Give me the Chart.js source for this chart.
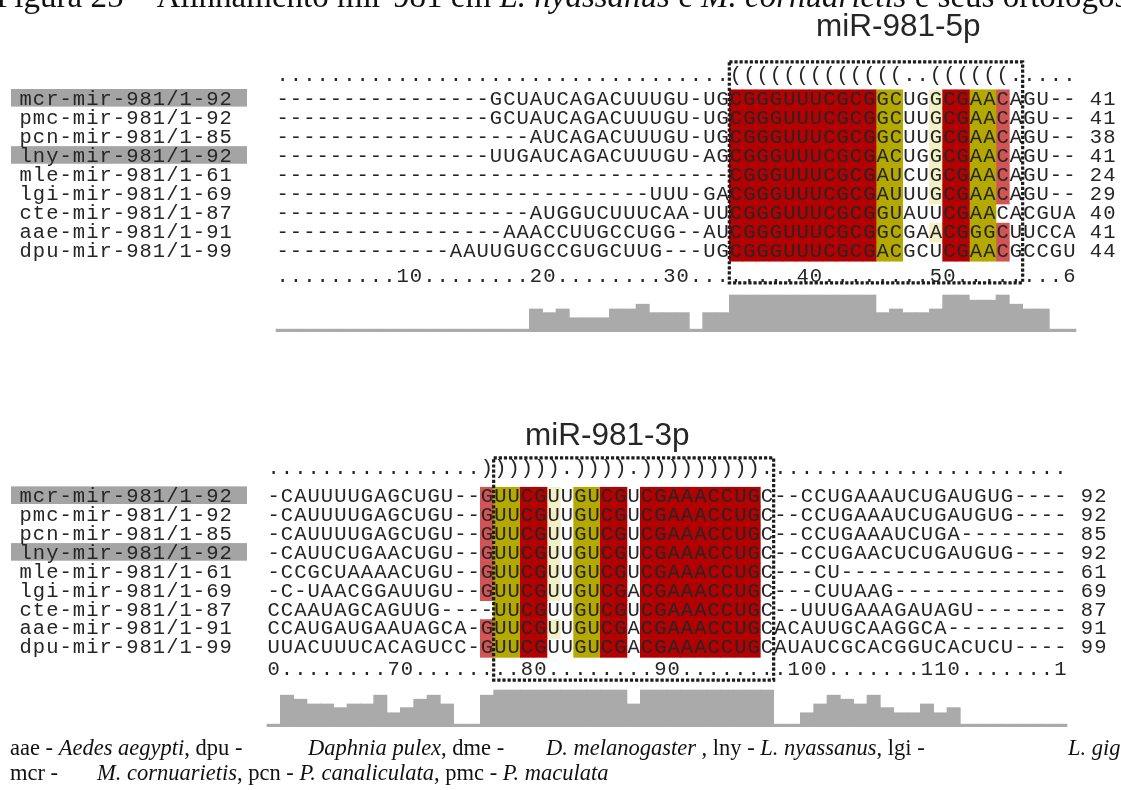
<!DOCTYPE html>
<html>
<head>
<meta charset="utf-8">
<script src="https://cdn.jsdelivr.net/npm/chart.js@4.4.1/dist/chart.umd.min.js"></script>
<style>
  html, body { margin: 0; padding: 0; background: #fff; }
  #wrap { position: relative; width: 1121px; height: 790px; }
</style>
</head>
<body>
<div id="wrap"><canvas id="alignChart"></canvas></div>
<script>
// ---- data ----
const sequenceNames = [
  'mcr-mir-981/1-92', 'pmc-mir-981/1-92', 'pcn-mir-981/1-85',
  'lny-mir-981/1-92', 'mle-mir-981/1-61', 'lgi-mir-981/1-69',
  'cte-mir-981/1-87', 'aae-mir-981/1-91', 'dpu-mir-981/1-99'
];
const highlightedNames = ['mcr-mir-981/1-92', 'lny-mir-981/1-92'];

// alignment columns 1-60 (5p arm)
const seq5p = [
  '-'.repeat(16) + 'GCUAUCAGACUUUGU-UGCGGGUUUCGCGGCUGGCGAACAGU--',
  '-'.repeat(16) + 'GCUAUCAGACUUUGU-UGCGGGUUUCGCGGCUUGCGAACAGU--',
  '-'.repeat(19) + 'AUCAGACUUUGU-UGCGGGUUUCGCGGCUUGCGAACAGU--',
  '-'.repeat(16) + 'UUGAUCAGACUUUGU-AGCGGGUUUCGCGACUGGCGAACAGU--',
  '-'.repeat(34) + 'CGGGUUUCGCGAUCUGCGAACAGU--',
  '-'.repeat(28) + 'UUU-GACGGGUUUCGCGAUUUGCGAACAGU--',
  '-'.repeat(19) + 'AUGGUCUUUCAA-UUCGGGUUUCGCGGUAUUCGAACACGUA',
  '-'.repeat(17) + 'AAACCUUGCCUGG--AUCGGGUUUCGCGGCGAACGGGCUUCCA',
  '-'.repeat(13) + 'AAUUGUGCCGUGCUUG---UGCGGGUUUCGCGACGCUCGAACGCCGU'
];
const end5p = [41, 41, 38, 41, 24, 29, 40, 41, 44];

// alignment columns 61-120 (3p arm)
const seq3p = [
  '-CAUUUUGAGCUGU--GUUCGUUGUCGUCGAAACCUGC--CCUGAAAUCUGAUGUG----',
  '-CAUUUUGAGCUGU--GUUCGUUGUCGUCGAAACCUGC--CCUGAAAUCUGAUGUG----',
  '-CAUUUUGAGCUGU--GUUCGUUGUCGUCGAAACCUGC--CCUGAAAUCUGA--------',
  '-CAUUCUGAACUGU--GUUCGUUGUCGUCGAAACCUGC--CCUGAACUCUGAUGUG----',
  '-CCGCUAAAACUGU--GUUCGUUGUCGUCGAAACCUGC---CU-----------------',
  '-C-UAACGGAUUGU--GUUCGUUGUCGACGAAACCUGC---CUUAAG-------------',
  'CCAAUAGCAGUUG----UUCGUUGUCGUCGAAACCUGC--UUUGAAAGAUAGU-------',
  'CCAUGAUGAAUAGCA-GUUCGUUGUCGACGAAACCUGCACAUUGCAAGGCA---------',
  'UUACUUUCACAGUCC-GUUCGUUGUCGACGAAACCUGCAUAUCGCACGGUCACUCU----'
];
const end3p = [92, 92, 85, 92, 61, 69, 87, 91, 99];

// secondary structure (dot-bracket)
const struct5p = '.'.repeat(34) + '(((((((((((((..((((((.....';
const struct3p = '.'.repeat(16) + ')))))).)))).)))))))))' + '.'.repeat(23);

// residue shading: R dark red, O olive, L light red, B pale yellow
const shade5p = [
  '.'.repeat(34) + 'RRRRRRRRRRROO..BRROOL.....',
  '.'.repeat(34) + 'RRRRRRRRRRROO..BRROOL.....',
  '.'.repeat(34) + 'RRRRRRRRRRROO..BRROOL.....',
  '.'.repeat(34) + 'RRRRRRRRRRROO..BRROOL.....',
  '.'.repeat(34) + 'RRRRRRRRRRROO..BRROOL.....',
  '.'.repeat(34) + 'RRRRRRRRRRROO..BRROOL.....',
  '.'.repeat(34) + 'RRRRRRRRRRROO...RROO......',
  '.'.repeat(34) + 'RRRRRRRRRRROO..BRROOL.....',
  '.'.repeat(34) + 'RRRRRRRRRRROO...RROOL.....'
];
const shade3p = [
  '.'.repeat(16) + 'LOORRB.OORR.RRRRRRRRR' + '.'.repeat(23),
  '.'.repeat(16) + 'LOORRB.OORR.RRRRRRRRR' + '.'.repeat(23),
  '.'.repeat(16) + 'LOORRB.OORR.RRRRRRRRR' + '.'.repeat(23),
  '.'.repeat(16) + 'LOORRB.OORR.RRRRRRRRR' + '.'.repeat(23),
  '.'.repeat(16) + 'LOORRB.OORR.RRRRRRRRR' + '.'.repeat(23),
  '.'.repeat(16) + 'LOORRB.OORR.RRRRRRRRR' + '.'.repeat(23),
  '.'.repeat(16) + '.OORR..OORR.RRRRRRRRR' + '.'.repeat(23),
  '.'.repeat(16) + 'LOORRB.OORR.RRRRRRRRR' + '.'.repeat(23),
  '.'.repeat(16) + 'LOORR..OORR.RRRRRRRRR' + '.'.repeat(23)
];

// conservation histogram, bar height in % of full height
const cons5p = [
  7, 7, 7, 7, 7, 7, 7, 7, 7, 7,
  7, 7, 7, 7, 7, 7, 7, 7, 7, 62,
  52, 62, 38, 38, 38, 62, 62, 75, 52, 52,
  52, 7, 52, 52, 100, 100, 100, 100, 100, 100,
  100, 100, 100, 100, 100, 52, 62, 52, 52, 62,
  100, 100, 86, 86, 100, 75, 62, 62, 7, 7
];
const cons3p = [
  7, 86, 75, 62, 62, 52, 62, 62, 86, 38,
  52, 75, 86, 62, 7, 7, 86, 100, 100, 100,
  100, 100, 100, 100, 100, 100, 100, 62, 100, 100,
  100, 100, 100, 100, 100, 100, 100, 100, 7, 7,
  38, 62, 86, 75, 62, 86, 52, 38, 38, 62,
  38, 52, 7, 7, 7, 7, 7, 7, 7, 7
];

// ruler tick labels (alignment positions)
const rulerTicks = [10, 20, 30, 40, 50, 60, 70, 80, 90, 100, 110, 120];

// mature miRNA boxes (alignment columns, 0-based, inclusive)
const arm5p = [34, 55];
const arm3p = [77, 97];

// ---- layout ----
const W = 1121, H = 790;
const COL_W = 13.333;
const MONO = '20.5px "Liberation Mono", "DejaVu Sans Mono", monospace';
const TEXT = '#262626';
const shadeColors = { R: '#b40000', O: '#b4a900', L: '#d25454', B: '#f2f0c6' };

const panels = [
  {
    name: 'miR-981-5p', nameX: 816, nameY: 36,
    seqs: seq5p, ends: end5p, struct: struct5p, shade: shade5p, cons: cons5p,
    firstCol: 0, arm: arm5p,
    xAxis: 'xTop', yAxis: 'yTop', hAxis: 'hTop',
    left: 276, rowTop: 99.3, pitch: 19.05, histBase: 331.7, histTop: 295,
    structRow: -1.24, rulerRow: 9.3, boxRows: [-1.96, 9.64]
  },
  {
    name: 'miR-981-3p', nameX: 525, nameY: 445,
    seqs: seq3p, ends: end3p, struct: struct3p, shade: shade3p, cons: cons3p,
    firstCol: 60, arm: arm3p,
    xAxis: 'xBot', yAxis: 'yBot', hAxis: 'hBot',
    left: 267, rowTop: 496.7, pitch: 18.9, histBase: 726.7, histTop: 690,
    structRow: -1.47, rulerRow: 9.17, boxRows: [-2.05, 9.7]
  }
];

function colScale(p) {
  const min = p.firstCol - 0.5 - p.left / COL_W;
  return { type: 'linear', display: false, offset: false, bounds: 'data', min: min, max: min + W / COL_W };
}
function rowScale(p) {
  const min = -p.rowTop / p.pitch;
  return { type: 'linear', display: false, reverse: true, bounds: 'data', min: min, max: min + H / p.pitch };
}
function histScale(p) {
  const k = (p.histBase - p.histTop) / 100;
  const min = -(H - p.histBase) / k;
  return { type: 'linear', display: false, bounds: 'data', min: min, max: min + H / k };
}

// build datasets: shaded cells as floating bars, conservation as bars
const datasets = [];
panels.forEach(p => {
  Object.keys(shadeColors).forEach(code => {
    const cells = [];
    p.shade.forEach((row, r) => {
      for (let k = 0; k < row.length; k++) {
        if (row[k] === code) cells.push({ x: p.firstCol + k, y: [r - 0.5, r + 0.5] });
      }
    });
    datasets.push({
      data: cells, backgroundColor: shadeColors[code], borderWidth: 0,
      xAxisID: p.xAxis, yAxisID: p.yAxis
    });
  });
  datasets.push({
    data: p.cons.map((v, k) => ({ x: p.firstCol + k, y: v })),
    backgroundColor: '#aaaaaa', borderWidth: 0,
    xAxisID: p.xAxis, yAxisID: p.hAxis
  });
});

// ruler text over all 120 columns
const rulerChars = new Array(120).fill('.');
rulerTicks.forEach(t => {
  const s = String(t);
  for (let i = 0; i < s.length; i++) if (t - 1 + i < 120) rulerChars[t - 1 + i] = s[i];
});
const rulerText = rulerChars.join('');

const titleParts = [
  ['Figura 25 – Alinhamento mir-981 em ', false],
  ['L. nyassanus', true],
  [' e ', false],
  ['M. cornuarietis', true],
  [' e seus ortólogos.', false]
];
// caption pieces: [text, italic, x (null = continue)]
const captionLines = [
  { y: 755, parts: [
    ['aae - ', false, 10], ['Aedes aegypti', true, null], [', dpu -', false, null],
    ['Daphnia pulex', true, 308], [', dme -', false, null],
    ['D. melanogaster', true, 546], [' , lny - ', false, null], ['L. nyassanus', true, null],
    [', lgi -', false, null], ['L. gigantea', true, 1068]
  ]},
  { y: 780, parts: [
    ['mcr -', false, 10], ['M. cornuarietis', true, 97], [', pcn - ', false, null],
    ['P. canaliculata', true, null], [', pmc - ', false, null], ['P. maculata', true, null]
  ]}
];

const alignmentPlugin = {
  id: 'alignmentText',
  beforeDraw(chart) {
    const ctx = chart.ctx;
    ctx.save();
    ctx.fillStyle = '#fff';
    ctx.fillRect(0, 0, chart.width, chart.height);
    ctx.restore();
  },
  beforeDatasetsDraw(chart) {
    const ctx = chart.ctx;
    ctx.save();
    ctx.fillStyle = '#a4a4a4';
    panels.forEach(p => {
      const ys = chart.scales[p.yAxis];
      sequenceNames.forEach((n, i) => {
        if (highlightedNames.includes(n)) {
          const y = ys.getPixelForValue(i);
          ctx.fillRect(11, y - 10.3, 236, 17.6);
        }
      });
    });
    ctx.restore();
  },
  afterDatasetsDraw(chart) {
    const ctx = chart.ctx;
    ctx.save();

    // title (top half cropped in the source)
    let fs = 30;
    const measure = size => titleParts.reduce((w, [t, it]) => {
      ctx.font = (it ? 'italic ' : '') + size + 'px "Liberation Serif"';
      return w + ctx.measureText(t).width;
    }, 0);
    fs = fs * 1140 / measure(fs);
    let tx = -4;
    ctx.fillStyle = '#111';
    ctx.textBaseline = 'alphabetic';
    ctx.textAlign = 'left';
    titleParts.forEach(([t, it]) => {
      ctx.font = (it ? 'italic ' : '') + fs + 'px "Liberation Serif"';
      ctx.fillText(t, tx, 7);
      tx += ctx.measureText(t).width;
    });

    // caption
    captionLines.forEach(line => {
      let x = 0;
      line.parts.forEach(([t, it, px]) => {
        if (px !== null) x = px;
        ctx.font = (it ? 'italic ' : '') + '22.5px "Liberation Serif"';
        ctx.fillText(t, x, line.y);
        x += ctx.measureText(t).width;
      });
    });

    panels.forEach(p => {
      const xs = chart.scales[p.xAxis], ys = chart.scales[p.yAxis];
      ctx.font = MONO;
      ctx.fillStyle = TEXT;
      ctx.textAlign = 'center';
      ctx.textBaseline = 'middle';
      const put = (str, col0, row) => {
        const y = ys.getPixelForValue(row);
        for (let k = 0; k < str.length; k++) {
          if (str[k] !== ' ') ctx.fillText(str[k], xs.getPixelForValue(col0 + k), y);
        }
      };
      put(p.struct, p.firstCol, p.structRow);
      p.seqs.forEach((s, i) => {
        put(s, p.firstCol, i);
        put(String(p.ends[i]), p.firstCol + s.length + 1, i);
      });
      put(rulerText.slice(p.firstCol, p.firstCol + 60), p.firstCol, p.rulerRow);

      // sequence names (same monospace grid)
      sequenceNames.forEach((n, i) => {
        const y = ys.getPixelForValue(i);
        for (let k = 0; k < n.length; k++) ctx.fillText(n[k], 19 + (k + 0.5) * COL_W, y);
      });

      // arm label
      ctx.font = '31.5px "Liberation Sans", Arial, sans-serif';
      ctx.fillStyle = '#262626';
      ctx.textAlign = 'left';
      ctx.textBaseline = 'alphabetic';
      ctx.fillText(p.name, p.nameX, p.nameY);

      // dotted box around mature sequence
      const x0 = xs.getPixelForValue(p.arm[0] - 0.5), x1 = xs.getPixelForValue(p.arm[1] + 0.5);
      const y0 = ys.getPixelForValue(p.boxRows[0]), y1 = ys.getPixelForValue(p.boxRows[1]);
      ctx.strokeStyle = '#1c1c1c';
      ctx.lineWidth = 3.2;
      ctx.setLineDash([3.2, 1.9]);
      ctx.strokeRect(x0, y0, x1 - x0, y1 - y0);
      ctx.setLineDash([]);
    });
    ctx.restore();
  }
};

const scales = {};
panels.forEach(p => {
  scales[p.xAxis] = colScale(p);
  scales[p.yAxis] = rowScale(p);
  scales[p.hAxis] = histScale(p);
});

new Chart(document.getElementById('alignChart'), {
  type: 'bar',
  data: { datasets: datasets },
  options: {
    responsive: true,
    maintainAspectRatio: false,
    animation: false,
    events: [],
    layout: { padding: 0 },
    datasets: { bar: { grouped: false, barPercentage: 1, categoryPercentage: 1 } },
    plugins: { legend: { display: false }, tooltip: { enabled: false }, title: { display: false } },
    scales: scales
  },
  plugins: [alignmentPlugin]
});
</script>
</body>
</html>
